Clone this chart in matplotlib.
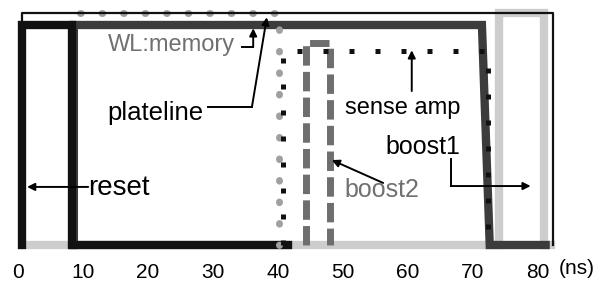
import matplotlib
matplotlib.use('Agg')
import matplotlib.pyplot as plt

plt.rcParams['font.family'] = ['Liberation Sans', 'DejaVu Sans']

# ---- signal data (time in ns, level 0 = low, 1 = high) ----
plateline_t = [0.6, 0.6, 82.3, 82.3]
plateline_v = [1.0, 1.055, 1.055, 0.0]

reset_t = [0.6, 0.6, 8.3, 8.3, 41.5]
reset_v = [0.0, 1.0, 1.0, 0.0, 0.0]

wl_t = [8.6, 8.6, 71.4, 72.6, 81.2]
wl_v = [0.0, 1.0, 1.0, 0.0, 0.0]

boost1_t = [1.8, 74.0, 74.0, 81.0, 81.0, 82.0]
boost1_v = [0.0, 0.0, 1.055, 1.055, 0.0, 0.0]

boost2_t = [44.3, 44.3, 48.0, 48.0]
boost2_v = [0.0, 0.92, 0.92, 0.0]

dots_t = [9.5, 40.1, 40.1]
dots_v = [1.055, 1.055, 0.0]

sense_t = [40.8, 40.8, 72.4, 72.4]
sense_v = [0.0, 0.88, 0.88, 0.0]

ticks = [0, 10, 20, 30, 40, 50, 60, 70, 80]

fig = plt.figure(figsize=(6.01, 2.86), dpi=100)
ax = fig.add_axes([0.0191, 0.1049, 0.919, 0.8846])

ax.plot(boost1_t, boost1_v, color='#cdcdcd', lw=6, solid_joinstyle='miter')
ax.plot(wl_t, wl_v, color='#3c3c3c', lw=6, solid_joinstyle='miter')
ax.plot(reset_t, reset_v, color='#111111', lw=6, solid_joinstyle='miter')
ax.plot(dots_t, dots_v, color='#a0a0a0', lw=5, ls=(0, (0.1, 3.0)), dash_capstyle='round')
ax.plot(boost2_t, boost2_v, color='#6e6e6e', lw=5, ls=(0, (2.8, 0.9)))
ax.plot(sense_t, sense_v, color='#111111', lw=3.6, ls=(0, (1.0, 4.2)))
ax.plot(plateline_t, plateline_v, color='#111111', lw=1.6)

# ---- labels with arrows ----
ap = dict(arrowstyle='-|>', color='k', lw=1.4, mutation_scale=11, shrinkA=0, shrinkB=0)

ax.text(13.8, 0.91, 'WL:memory', fontsize=17, color='#707070', va='center', ha='left')
ax.plot([34.4, 36.2], [0.9, 0.9], color='k', lw=1.4)
ax.annotate('', xy=(36.2, 0.985), xytext=(36.2, 0.9), arrowprops=ap)

ax.text(13.7, 0.6, 'plateline', fontsize=18.5, color='k', va='center', ha='left')
ax.plot([29.2, 36.0], [0.627, 0.627], color='k', lw=1.4)
ax.annotate('', xy=(38.3, 1.035), xytext=(36.0, 0.627), arrowprops=ap)

ax.text(50.3, 0.625, 'sense amp', fontsize=17, color='k', va='center', ha='left')
ax.annotate('', xy=(60.6, 0.885), xytext=(60.6, 0.7), arrowprops=ap)

ax.text(56.6, 0.445, 'boost1', fontsize=18, color='k', va='center', ha='left')
ax.plot([66.6, 66.6], [0.39, 0.268], color='k', lw=1.4)
ax.annotate('', xy=(78.9, 0.268), xytext=(66.6, 0.268), arrowprops=ap)

ax.text(50.3, 0.25, 'boost2', fontsize=18, color='#707070', va='center', ha='left')
ax.annotate('', xy=(48.3, 0.386), xytext=(56.2, 0.282), arrowprops=ap)

ax.text(10.8, 0.26, 'reset', fontsize=20, color='k', va='center', ha='left')
ax.annotate('', xy=(1.4, 0.264), xytext=(10.8, 0.264), arrowprops=ap)

ax.set_xlim(-1, 84)
ax.set_ylim(-0.05, 1.1)
ax.set_xticks(ticks)
ax.set_xticklabels([str(t) for t in ticks])
ax.tick_params(axis='x', length=0, labelsize=15, pad=5)
ax.set_yticks([])
for s in ax.spines.values():
    s.set_visible(False)

fig.text(577 / 601, 1 - 268 / 286, '(ns)', fontsize=15, ha='center', va='center')

fig.savefig('out.png', dpi=100)
